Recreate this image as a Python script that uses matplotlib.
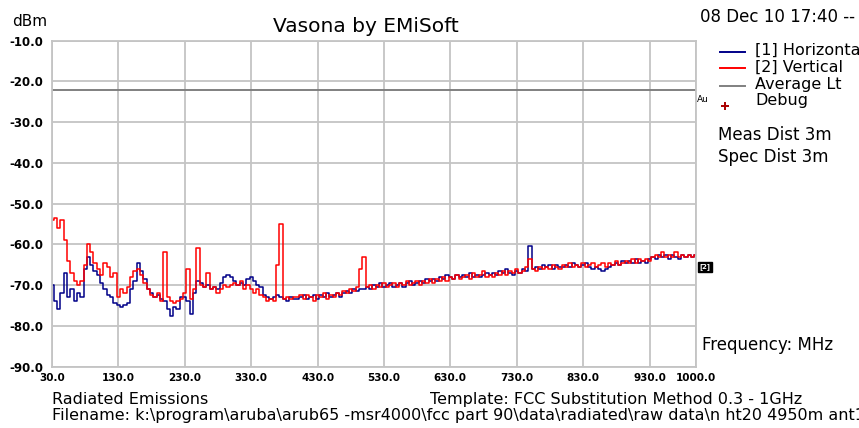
import numpy as np
import matplotlib
matplotlib.use("Agg")
import matplotlib.pyplot as plt

# ---- data ----
freq = np.arange(30, 1001, 5)  # MHz sample grid 30..1000

horiz_low = [-70, -74, -76, -72, -67, -73, -71, -74, -72, -73,
             -66, -63, -65, -66.5, -67.5, -69.5, -71, -72.5, -73, -74.5,
             -75, -75.5, -75, -74.5, -71, -69, -64.5, -66.5, -68.5, -71,
             -72, -73, -72.5, -73.5, -74, -76, -77.5, -75.5, -76, -73,
             -73, -74, -77, -72, -69, -69.5, -70.5, -70, -71, -70.5,
             -71, -69.5, -68, -67.5, -68, -69, -70, -69.5, -70, -68.5,
             -68, -69, -70, -70.5, -72.5, -73, -73.5, -73, -72.5, -73,
             -73.5, -74, -73, -73.5]
vert_low = [-54, -53.5, -56, -54, -59, -64, -67, -69, -70, -69,
            -65, -60, -62, -64.5, -66, -67.5, -64.5, -65.5, -68, -67,
            -73, -71, -72, -70.5, -68, -66.5, -66, -67.5, -69.5, -71,
            -72.5, -73, -72, -74, -62, -73, -74, -74.5, -74, -73.5,
            -72, -66, -73.5, -71, -61, -70, -70.5, -67, -71, -70.5,
            -72, -71, -70, -70.5, -70, -69.5, -70, -69, -71, -70,
            -71, -72, -71, -72.5, -73, -74, -73.5, -74, -65, -55,
            -73.5, -73, -73.5, -73]
horiz_high = [-73.5, -73, -72.5, -73.5, -73, -72.5, -73.5, -72.5, -73, -72,
              -73, -72.5, -72, -73, -72, -71.5, -72, -71, -71.5, -71,
              -71, -70.5, -71, -70, -70.5, -69.5, -70.5, -70, -69.5, -70.5,
              -70, -69.5, -70.5, -69.5, -69, -70, -69.5, -69, -69.5, -68.5,
              -69, -68.5, -69, -68, -68.5, -67.5, -68, -68.5, -67.5, -68,
              -67.5, -68, -67, -68, -67.5, -68, -67.5, -67, -67.5, -67,
              -67.5, -66.5, -67, -66, -67, -67.5, -66.5, -67, -66, -66.5,
              -60.5, -66, -65.5, -66, -65, -65.5, -65, -66, -65, -65.5,
              -65.5, -65, -65.5, -64.5, -65, -65.5, -65, -64.5, -65.5, -66,
              -65.5, -66, -66.5, -66, -65.5, -65, -64.5, -65, -64, -64.5,
              -64, -64.5, -63.5, -64.5, -64, -64.5, -63.5, -63, -63.5, -62.5,
              -63, -62.5, -63.5, -62.5, -63, -63.5, -62.5, -63, -62.5, -63,
              -62.5]
vert_high = [-73, -72.5, -73.5, -72.5, -73, -74, -72.5, -73, -72, -73.5,
             -72.5, -73, -72, -72.5, -71.5, -72, -71, -71.5, -70.5, -66,
             -63, -70.5, -70, -71, -70, -70.5, -69.5, -70.5, -70, -69.5,
             -70.5, -69.5, -70, -69, -70, -69.5, -69, -70, -69, -69.5,
             -68.5, -69.5, -68.5, -69, -68, -69, -68, -68.5, -67.5, -68.5,
             -68, -67.5, -68.5, -67, -68, -67.5, -66.5, -68, -67.5, -68,
             -67, -67.5, -66.5, -67.5, -66.5, -67, -66, -67, -66.5, -65.5,
             -63.5, -66, -66.5, -65.5, -66, -65.5, -66, -65, -65.5, -66,
             -65, -65.5, -64.5, -65.5, -65, -65.5, -64.5, -65.5, -65, -64.5,
             -65.5, -65, -64.5, -65.5, -64.5, -65, -64, -65, -64.5, -64,
             -64.5, -63.5, -64.5, -63.5, -64, -63.5, -64, -63, -62.5, -63,
             -62, -63, -62.5, -63, -62, -63, -62.5, -63, -62.5, -63,
             -62.5]
average_limit = -22.0

x_ticks = [30, 130, 230, 330, 430, 530, 630, 730, 830, 930, 1000]
y_ticks = [-10, -20, -30, -40, -50, -60, -70, -80, -90]

horiz = np.array(horiz_low + horiz_high)
vert = np.array(vert_low + vert_high)
n = min(len(freq), len(horiz), len(vert))

W, H = 859, 428
fig = plt.figure(figsize=(W / 100, H / 100), dpi=100)
fig.patch.set_facecolor("white")

def fx(px):
    return px / W

def fy(py):
    return 1 - py / H

L, R, T, B = 52, 696, 40.7, 366.5
ax = fig.add_axes([fx(L), fy(B), (R - L) / W, (B - T) / H])

grid_c = "#c4c4c4"
ax.set_xlim(30, 1000)
ax.set_ylim(-90, -10)
ax.set_xticks(x_ticks)
ax.set_yticks(y_ticks)
ax.set_xticklabels([f"{v:.1f}" for v in x_ticks])
ax.set_yticklabels([f"{v:.1f}" for v in y_ticks])
ax.grid(True, color=grid_c, lw=1.3)
ax.set_axisbelow(True)
for s in ax.spines.values():
    s.set_color(grid_c)
    s.set_linewidth(1.3)
ax.tick_params(axis="x", length=0, labelsize=7.5, pad=5)
ax.tick_params(axis="y", length=0, labelsize=8.5, pad=6)
for lab in ax.get_xticklabels() + ax.get_yticklabels():
    lab.set_fontweight("bold")

ax.axhline(average_limit, color="#808080", lw=1.4)
ax.plot(freq[:n], horiz[:n], color="#000088", lw=1.1, drawstyle="steps-mid")
ax.plot(freq[:n], vert[:n], color="#ff0000", lw=1.1, drawstyle="steps-mid")

# ---- texts ----
fig.text(fx(366), fy(27), "Vasona by EMiSoft", ha="center", va="center", fontsize=14.5)
fig.text(fx(12), fy(21), "dBm", ha="left", va="center", fontsize=11)
fig.text(fx(700), fy(16.5), "08 Dec 10 17:40 --", ha="left", va="center", fontsize=12)

leg_items = [("[1] Horizontal", "#000088", 51.7),
             ("[2] Vertical", "#ff0000", 68),
             ("Average Lt", "#808080", 86)]
for lab, c, yy in leg_items:
    fig.add_artist(plt.Line2D([fx(720), fx(745)], [fy(yy), fy(yy)], color=c, lw=1.4))
    fig.text(fx(755), fy(yy - 1), lab, ha="left", va="center", fontsize=11.5)
fig.add_artist(plt.Line2D([fx(725)], [fy(106)], marker="+", color="#aa0000",
                          markersize=6, mew=1.4, ls="none"))
fig.text(fx(755), fy(101), "Debug", ha="left", va="center", fontsize=11.5)
fig.text(fx(697), fy(100), "Au", ha="left", va="center", fontsize=6.5)

fig.text(fx(718), fy(134.5), "Meas Dist 3m", ha="left", va="center", fontsize=12)
fig.text(fx(718), fy(157.5), "Spec Dist 3m", ha="left", va="center", fontsize=12)
fig.text(fx(702), fy(345.5), "Frequency: MHz", ha="left", va="center", fontsize=12)
fig.text(fx(705), fy(267), "[2]", ha="center", va="center", fontsize=5,
         color="white", fontweight="bold",
         bbox=dict(boxstyle="square,pad=0.15", fc="black", ec="black"))

fig.text(fx(52), fy(399.5), "Radiated Emissions", ha="left", va="center", fontsize=11.5)
fig.text(fx(430), fy(399.5), "Template: FCC Substitution Method 0.3 - 1GHz",
         ha="left", va="center", fontsize=11.5)
fig.text(fx(52), fy(415.5),
         "Filename: k:\\program\\aruba\\arub65 -msr4000\\fcc part 90\\data\\radiated\\raw data\\n ht20 4950m ant1.dat",
         ha="left", va="center", fontsize=11.5)

fig.savefig("out.png", dpi=100)
